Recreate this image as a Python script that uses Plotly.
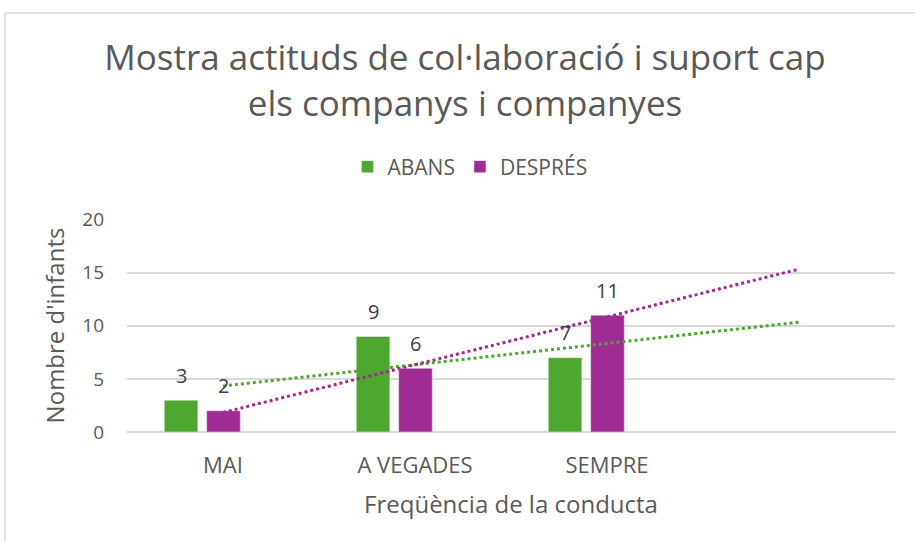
import numpy as np
import plotly.graph_objects as go

categories = ["MAI", "A VEGADES", "SEMPRE"]
abans = [3, 9, 7]
despres = [2, 6, 11]

green = "#4EA72E"
purple = "#A02B93"
grey_txt = "#595959"
font = "Open Sans"

W, H = 915, 541
L, R, T, B = 127, 20, 219, 109

x = np.arange(1, len(categories) + 1)
bw = 0.175
off_a, off_d = -0.306, -0.085

fig = go.Figure()
fig.add_trace(go.Bar(x=x, y=abans, name="ABANS", marker_color=green,
                     width=bw, offset=off_a))
fig.add_trace(go.Bar(x=x, y=despres, name="DESPRÉS", marker_color=purple,
                     width=bw, offset=off_d))

# linear trendlines, forecast forward one period (like Excel)
xt = np.array([1, len(categories) + 1])
for vals, col in [(abans, green), (despres, purple)]:
    m, b = np.polyfit(x, vals, 1)
    fig.add_trace(go.Scatter(x=xt, y=m * xt + b, mode="lines", showlegend=False,
                             line=dict(color=col, width=3, dash="dot"),
                             hoverinfo="skip"))

# data labels
for vals, off in [(abans, off_a), (despres, off_d)]:
    for xi, v in zip(x, vals):
        fig.add_annotation(x=xi + off + bw / 2, y=v, text=str(v), showarrow=False,
                           yanchor="middle", yshift=25,
                           font=dict(size=20, color="#404040", family=font))

# chart border (top / left visible)
ph = H - T - B
pw = W - L - R
ytop = (H - B - 13) / ph
xleft = (5 - L) / pw
fig.add_shape(type="line", xref="paper", yref="paper", x0=xleft, x1=1.2,
              y0=ytop, y1=ytop, line=dict(color="#d9d9d9", width=1.5))
fig.add_shape(type="line", xref="paper", yref="paper", x0=xleft, x1=xleft,
              y0=ytop, y1=-1, line=dict(color="#d9d9d9", width=1.5))

fig.update_layout(
    width=W, height=H,
    margin=dict(l=L, r=R, t=T, b=B),
    plot_bgcolor="white", paper_bgcolor="white",
    font=dict(family=font, color=grey_txt),
    title=dict(text="Mostra actituds de col·laboració i suport cap<br>els companys i companyes",
               x=465 / W, xanchor="center", xref="container",
               y=1 - 70 / H, yanchor="middle", yref="container",
               font=dict(size=35, color=grey_txt, family=font)),
    legend=dict(orientation="h", x=470 / W, xref="container", xanchor="center",
                y=1 - 167 / H, yref="container", yanchor="middle",
                font=dict(size=21, color=grey_txt), itemwidth=30),
    barmode="overlay",
)
fig.update_xaxes(range=[0.5, 4.5], tickvals=list(x), ticktext=categories,
                 showgrid=False, showline=False, zeroline=False, ticks="",
                 ticklabelstandoff=18,
                 tickfont=dict(size=22, color=grey_txt),
                 title=dict(text="Freqüència de la conducta", standoff=18,
                            font=dict(size=24, color=grey_txt)))
fig.update_yaxes(range=[0, 20.05], dtick=5, showgrid=True, gridcolor="#d9d9d9",
                 gridwidth=1.5, zeroline=True, zerolinecolor="#d9d9d9",
                 zerolinewidth=2, ticks="", ticklabelstandoff=22,
                 tickfont=dict(size=19, color=grey_txt),
                 title=dict(text="Nombre d'infants", standoff=10,
                            font=dict(size=24, color=grey_txt)))

fig.write_html("out.html", config={"displayModeBar": False},
               post_script="document.body.style.margin='0';")
